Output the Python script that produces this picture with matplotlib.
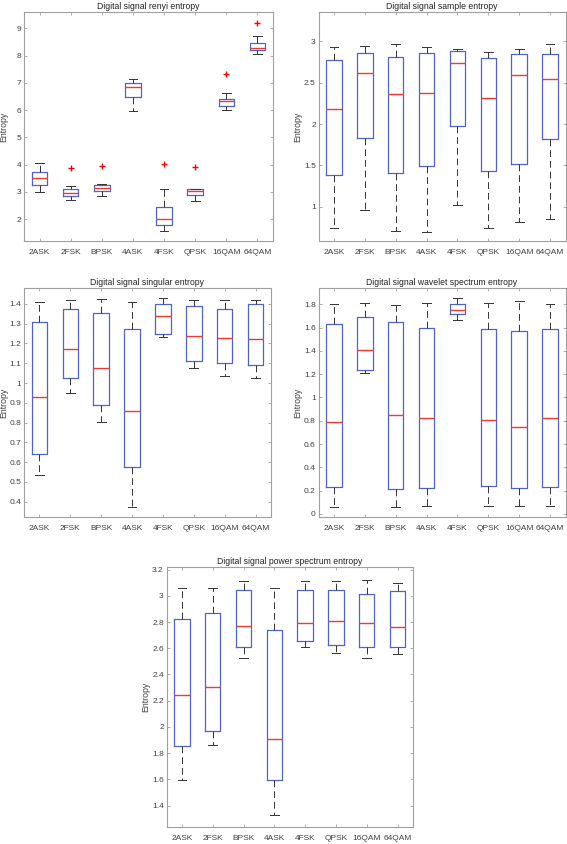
import matplotlib
matplotlib.use("Agg")
import matplotlib.pyplot as plt
import numpy as np

plt.rcParams['font.family'] = ['Liberation Sans', 'DejaVu Sans']

mods = ['2ASK', '2FSK', 'BPSK', '4ASK', '4FSK', 'QPSK', '16QAM', '64QAM']

# Renyi entropy (whisker low, q1, median, q3, whisker high, outliers)
renyi_lo = [2.99, 2.72, 2.85, 5.98, 1.57, 2.68, 6.00, 8.07]
renyi_q1 = [3.26, 2.84, 3.02, 6.48, 1.78, 2.90, 6.16, 8.22]
renyi_med = [3.52, 2.95, 3.13, 6.85, 2.02, 3.02, 6.32, 8.29]
renyi_q3 = [3.73, 3.12, 3.27, 7.01, 2.44, 3.09, 6.40, 8.46]
renyi_hi = [4.05, 3.20, 3.28, 7.15, 3.10, 3.11, 6.63, 8.73]
renyi_out = [[], [3.87], [3.95], [], [4.01], [3.90], [7.32], [9.20]]

# Sample entropy
sample_lo = [0.75, 0.96, 0.71, 0.70, 1.02, 0.75, 0.82, 0.86]
sample_q1 = [1.38, 1.83, 1.41, 1.49, 1.98, 1.43, 1.52, 1.82]
sample_med = [2.18, 2.61, 2.36, 2.37, 2.73, 2.31, 2.59, 2.54]
sample_q3 = [2.77, 2.86, 2.81, 2.86, 2.88, 2.80, 2.84, 2.84]
sample_hi = [2.93, 2.94, 2.96, 2.93, 2.90, 2.87, 2.90, 2.96]

# Singular entropy
singular_lo = [0.535, 0.948, 0.805, 0.371, 1.23, 1.075, 1.036, 1.024]
singular_q1 = [0.64, 1.026, 0.887, 0.577, 1.248, 1.113, 1.10, 1.09]
singular_med = [0.93, 1.17, 1.078, 0.86, 1.339, 1.24, 1.225, 1.221]
singular_q3 = [1.31, 1.376, 1.356, 1.275, 1.40, 1.388, 1.376, 1.397]
singular_hi = [1.41, 1.418, 1.422, 1.41, 1.429, 1.42, 1.418, 1.417]

# Wavelet spectrum entropy
wavelet_lo = [0.06, 1.213, 0.063, 0.066, 1.668, 0.066, 0.066, 0.066]
wavelet_q1 = [0.229, 1.236, 0.212, 0.223, 1.714, 0.237, 0.22, 0.234]
wavelet_med = [0.787, 1.405, 0.853, 0.824, 1.75, 0.81, 0.744, 0.821]
wavelet_q3 = [1.634, 1.69, 1.645, 1.60, 1.80, 1.59, 1.568, 1.585]
wavelet_hi = [1.80, 1.814, 1.797, 1.81, 1.85, 1.81, 1.83, 1.806]

# Power spectrum entropy
power_lo = [1.595, 1.86, 2.522, 1.327, 2.606, 2.565, 2.527, 2.56]
power_q1 = [1.857, 1.971, 2.608, 1.597, 2.659, 2.623, 2.608, 2.613]
power_med = [2.247, 2.305, 2.77, 1.908, 2.793, 2.808, 2.793, 2.76]
power_q3 = [2.826, 2.871, 3.043, 2.742, 3.045, 3.048, 3.013, 3.04]
power_hi = [3.06, 3.06, 3.116, 3.056, 3.114, 3.114, 3.119, 3.099]

BOX_BLUE = '#5064c6'
MED_RED = '#ee3b2f'
FRAME = '#a0a0a0'
TEXT = '#404040'

W, H = 567, 844
fig = plt.figure(figsize=(W / 100, H / 100), dpi=100)


def box_axes(left, top, right, bottom):
    ax = fig.add_axes([left / W, 1 - bottom / H, (right - left) / W, (bottom - top) / H])
    ax.width_px = right - left
    return ax


def draw_panel(ax, title, lo, q1, med, q3, hi, out, ylim, yticks):
    if out is None:
        out = [[] for _ in lo]
    stats = []
    for i in range(len(lo)):
        stats.append(dict(whislo=lo[i], q1=q1[i], med=med[i], q3=q3[i],
                          whishi=hi[i], fliers=out[i], label=mods[i]))
    ax.bxp(stats, positions=np.arange(1, len(stats) + 1), widths=0.5,
           capwidths=0.28, showfliers=True,
           boxprops=dict(color=BOX_BLUE, linewidth=0.9),
           medianprops=dict(color=MED_RED, linewidth=1.0),
           whiskerprops=dict(color='#333333', linewidth=0.7,
                             linestyle=(0, (7, 4))),
           capprops=dict(color='#333333', linewidth=0.7),
           flierprops=dict(marker='+', markeredgecolor='red',
                           markersize=5, markeredgewidth=1.0))
    ax.set_xlim(0.5, len(lo) + 0.5)
    ax.set_ylim(*ylim)
    ax.set_yticks(yticks)
    ax.set_yticklabels(['%g' % round(v, 2) for v in yticks])
    ax.set_title(title, fontsize=6.2, color='#222222', pad=2.5)
    ax.set_ylabel('Entropy', fontsize=6.3, color=TEXT)
    ax.yaxis.set_label_coords(-16 / ax.width_px, 0.5)
    ax.tick_params(direction='in', length=2.5, width=0.6, color=FRAME,
                   labelsize=6, labelcolor=TEXT, top=True, right=True)
    ax.tick_params(axis='y', pad=2)
    ax.tick_params(axis='x', pad=6)
    for sp in ax.spines.values():
        sp.set_color(FRAME)
        sp.set_linewidth(0.8)


ax1 = box_axes(24, 12, 273, 241)
ax2 = box_axes(318.5, 12, 565.5, 241)
ax3 = box_axes(24, 288, 271, 517)
ax4 = box_axes(318.5, 288, 565.5, 517)
ax5 = box_axes(166.5, 567, 413, 826.5)

draw_panel(ax1, 'Digital signal renyi entropy', renyi_lo, renyi_q1, renyi_med,
           renyi_q3, renyi_hi, renyi_out, (1.2, 9.6), np.arange(2, 10, 1))
draw_panel(ax2, 'Digital signal sample entropy', sample_lo, sample_q1, sample_med,
           sample_q3, sample_hi, None, (0.59, 3.35), np.arange(1, 3.01, 0.5))
draw_panel(ax3, 'Digital signal singular entropy', singular_lo, singular_q1,
           singular_med, singular_q3, singular_hi, None, (0.323, 1.48),
           np.arange(0.4, 1.41, 0.1))
draw_panel(ax4, 'Digital signal wavelet spectrum entropy', wavelet_lo, wavelet_q1,
           wavelet_med, wavelet_q3, wavelet_hi, None, (-0.026, 1.94),
           np.arange(0, 1.81, 0.2))
draw_panel(ax5, 'Digital signal power spectrum entropy', power_lo, power_q1,
           power_med, power_q3, power_hi, None, (1.24, 3.22),
           np.arange(1.4, 3.21, 0.2))

fig.savefig('out.png', dpi=100)
